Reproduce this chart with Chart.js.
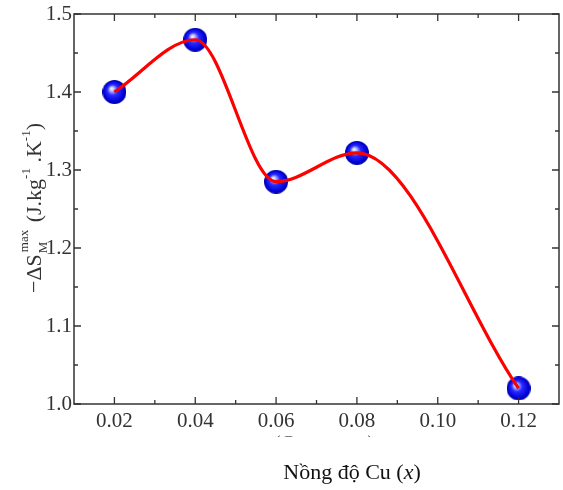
<!DOCTYPE html>
<html>
<head>
<meta charset="utf-8">
<script src="https://cdn.jsdelivr.net/npm/chart.js@4.4.1/dist/chart.umd.min.js"></script>
<style>
  html, body { margin: 0; padding: 0; background: #fff; }
  #wrap { width: 563px; height: 490px; position: relative; }
</style>
</head>
<body>
<div id="wrap"><canvas id="chart"></canvas></div>
<script>
// data
const cuContent = [0.02, 0.04, 0.06, 0.08, 0.12];
const entropyChange = [1.40, 1.467, 1.285, 1.322, 1.02];
const xTicks = [0.02, 0.04, 0.06, 0.08, 0.10, 0.12];
const xMinorTicks = [0.03, 0.05, 0.07, 0.09, 0.11];
const yTicks = [1.0, 1.1, 1.2, 1.3, 1.4, 1.5];
const yMinorTicks = [1.05, 1.15, 1.25, 1.35, 1.45];

const serif = '"Liberation Serif", "Times New Roman", serif';

// shaded blue ball used as point marker
function makeBall(r) {
    const c = document.createElement('canvas');
    c.width = c.height = r * 2;
    const g = c.getContext('2d');
    const grad = g.createRadialGradient(r * 0.75, r * 0.7, 0, r, r, r);
    grad.addColorStop(0, '#ffffff');
    grad.addColorStop(0.18, '#b8bcff');
    grad.addColorStop(0.45, '#2a2aff');
    grad.addColorStop(0.85, '#0000d8');
    grad.addColorStop(1, '#00009c');
    g.fillStyle = grad;
    g.beginPath();
    g.arc(r, r, r, 0, Math.PI * 2);
    g.fill();
    return c;
}
const ball = makeBall(12);

const points = cuContent.map((x, i) => ({ x: x, y: entropyChange[i] }));

// frame, inward ticks and axis titles
const framePlugin = {
    id: 'frame',
    afterDraw(chart) {
        const ctx = chart.ctx;
        const a = chart.chartArea;
        const xs = chart.scales.x, ys = chart.scales.y;
        ctx.save();
        ctx.strokeStyle = '#333';
        ctx.lineWidth = 1.5;
        ctx.strokeRect(a.left, a.top, a.right - a.left, a.bottom - a.top);

        ctx.lineWidth = 1.3;
        ctx.beginPath();
        xTicks.forEach(v => {
            const px = xs.getPixelForValue(v);
            ctx.moveTo(px, a.bottom); ctx.lineTo(px, a.bottom - 7);
            ctx.moveTo(px, a.top); ctx.lineTo(px, a.top + 7);
        });
        xMinorTicks.forEach(v => {
            const px = xs.getPixelForValue(v);
            ctx.moveTo(px, a.bottom); ctx.lineTo(px, a.bottom - 4);
            ctx.moveTo(px, a.top); ctx.lineTo(px, a.top + 4);
        });
        yTicks.forEach(v => {
            const py = ys.getPixelForValue(v);
            ctx.moveTo(a.left, py); ctx.lineTo(a.left + 7, py);
            ctx.moveTo(a.right, py); ctx.lineTo(a.right - 7, py);
        });
        yMinorTicks.forEach(v => {
            const py = ys.getPixelForValue(v);
            ctx.moveTo(a.left, py); ctx.lineTo(a.left + 4, py);
            ctx.moveTo(a.right, py); ctx.lineTo(a.right - 4, py);
        });
        ctx.stroke();

        // y title with sub/superscripts, rotated
        ctx.save();
        ctx.translate(34, 208);
        ctx.rotate(-Math.PI / 2);
        ctx.fillStyle = '#333';
        ctx.textBaseline = 'alphabetic';
        const big = '22px ' + serif, small = '13px ' + serif;
        const parts = [
            { t: '\u2212\u0394S', f: big, dy: 0 },
            { t: 'M', f: small, dy: 6, stack: 'max' },
            { t: ' (J.kg', f: big, dy: 0 },
            { t: '-1', f: small, dy: -11 },
            { t: ' .K', f: big, dy: 0 },
            { t: '-1', f: small, dy: -11 },
            { t: ')', f: big, dy: 0 }
        ];
        let total = 0;
        parts.forEach(p => {
            ctx.font = p.f;
            let w = ctx.measureText(p.t).width;
            if (p.stack) w = Math.max(w, ctx.measureText(p.stack).width);
            p.w = w;
            total += w + (p.stack ? 4 : 0);
        });
        let cx = -total / 2;
        parts.forEach(p => {
            ctx.font = p.f;
            ctx.fillText(p.t, cx + (p.stack ? 1 : 0), 7 + p.dy);
            if (p.stack) ctx.fillText(p.stack, cx + 2, 7 - 13);
            cx += p.w + (p.stack ? 4 : 0);
        });
        ctx.restore();

        // original english label, mostly hidden below the axis
        ctx.save();
        ctx.beginPath();
        ctx.rect(0, 432, chart.width, 5);
        ctx.clip();
        ctx.fillStyle = '#555';
        ctx.font = '20px ' + serif;
        ctx.textAlign = 'center';
        ctx.fillText('x (Cu content)', (a.left + a.right) / 2, 450);
        ctx.restore();

        // vietnamese axis title
        ctx.fillStyle = '#111';
        ctx.font = '22px ' + serif;
        const t1 = 'N\u1ED3ng \u0111\u1ED9 Cu (', t2 = 'x', t3 = ')';
        const w1 = ctx.measureText(t1).width, w3 = ctx.measureText(t3).width;
        ctx.font = 'italic 22px ' + serif;
        const w2 = ctx.measureText(t2).width;
        let sx = 352 - (w1 + w2 + w3) / 2;
        ctx.font = '22px ' + serif;
        ctx.fillText(t1, sx, 479);
        ctx.font = 'italic 22px ' + serif;
        ctx.fillText(t2, sx + w1, 479);
        ctx.font = '22px ' + serif;
        ctx.fillText(t3, sx + w1 + w2, 479);
        ctx.restore();
    }
};

new Chart(document.getElementById('chart'), {
    type: 'scatter',
    data: {
        datasets: [
            {
                label: 'fit',
                data: points,
                showLine: true,
                borderColor: '#ff0000',
                borderWidth: 3.2,
                cubicInterpolationMode: 'monotone',
                pointRadius: 0,
                order: 0
            },
            {
                label: 'data',
                data: points,
                showLine: false,
                pointStyle: ball,
                pointRadius: 12,
                order: 1
            }
        ]
    },
    options: {
        responsive: true,
        maintainAspectRatio: false,
        animation: false,
        layout: { autoPadding: false, padding: { top: 14, right: 4, left: 0, bottom: 0 } },
        plugins: {
            legend: { display: false },
            tooltip: { enabled: false }
        },
        scales: {
            x: {
                type: 'linear',
                min: 0.01,
                max: 0.13,
                afterBuildTicks: s => { s.ticks = xTicks.map(v => ({ value: v })); },
                afterFit: s => { s.height = 86; s.paddingLeft = 0; s.paddingRight = 0; },
                grid: { display: false, drawTicks: false },
                border: { display: false },
                ticks: {
                    color: '#333',
                    font: { family: serif, size: 21 },
                    padding: 5,
                    maxRotation: 0,
                    callback: v => v.toFixed(2)
                }
            },
            y: {
                min: 1.0,
                max: 1.5,
                afterBuildTicks: s => { s.ticks = yTicks.map(v => ({ value: v })); },
                afterFit: s => { s.width = 74; s.paddingTop = 0; s.paddingBottom = 0; },
                grid: { display: false, drawTicks: false },
                border: { display: false },
                ticks: {
                    color: '#333',
                    font: { family: serif, size: 21 },
                    padding: 2,
                    callback: v => v.toFixed(1)
                }
            }
        }
    },
    plugins: [framePlugin]
});
</script>
</body>
</html>
